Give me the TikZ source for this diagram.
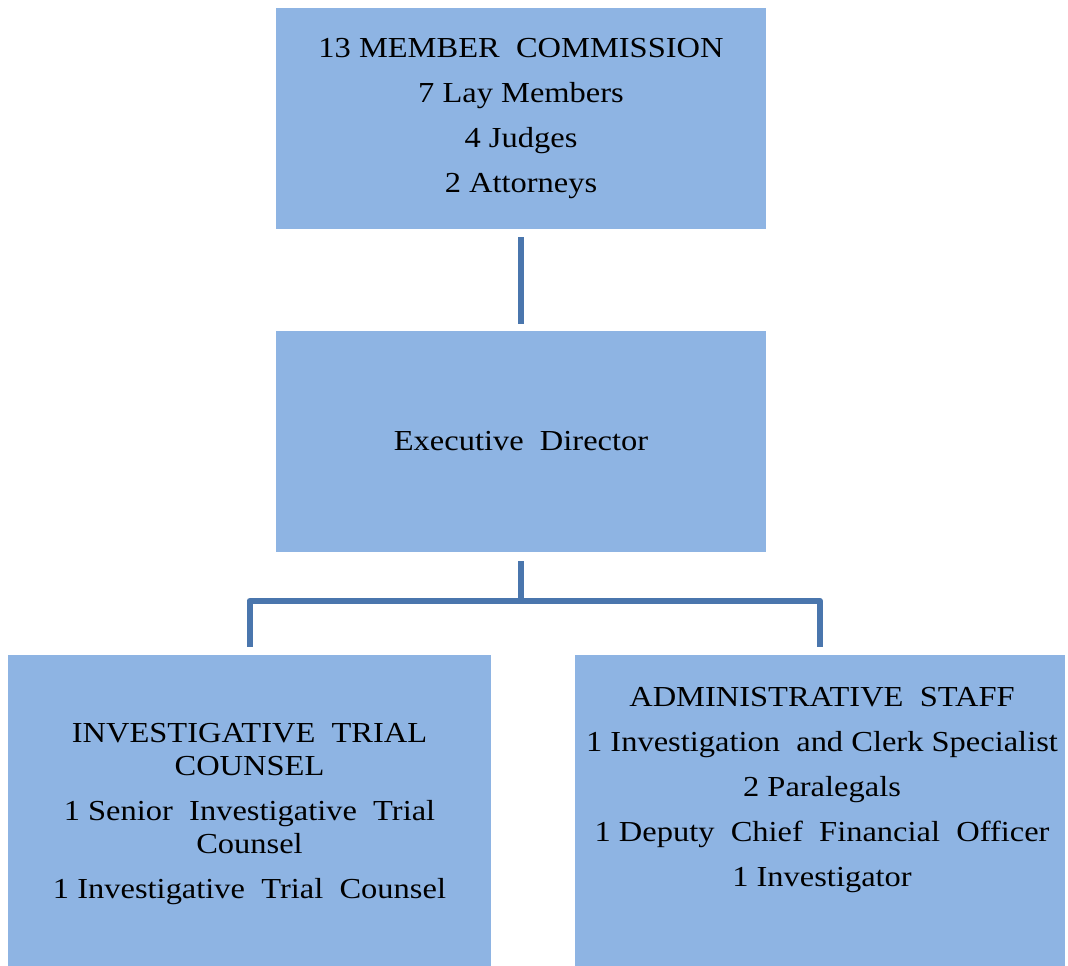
\documentclass[tikz,border=0pt]{standalone}
\usepackage{fontspec}
\setmainfont{Liberation Serif}[FakeStretch=1.12]
\usetikzlibrary{positioning}

\definecolor{boxblue}{RGB}{142,180,227}
\definecolor{lineblue}{RGB}{74,118,173}

\begin{document}
\begin{tikzpicture}[x=1pt,y=-1pt,
	box/.style={fill=boxblue,minimum width=490pt,minimum height=221pt,inner sep=0pt,align=center,font=\fontsize{29}{33}\selectfont},
	txt/.style={inner sep=0pt,align=center,font=\fontsize{29}{33}\selectfont},
	link/.style={lineblue,line width=6pt,line join=round}]
	\useasboundingbox (0,0) rectangle (1068,966);
	\node[box] (comm) at (521,118.5) {13 MEMBER\ \ COMMISSION\\[12pt] 7 Lay Members\\[12pt] 4 Judges\\[12pt] 2 Attorneys};
	\node[box] (exec) at (521,441.5) {Executive\ \ Director};
	\node[box,minimum width=483pt,minimum height=311pt] (inv) at (249.5,810.5) {};
	\node[txt] (invtext) at (249.5,814) {INVESTIGATIVE\ \ TRIAL\\ COUNSEL\\[12pt] 1 Senior\ \ Investigative\ \ Trial\\ Counsel\\[12pt] 1 Investigative\ \ Trial\ \ Counsel};
	\node[box,minimum height=311pt] (adm) at (820,810.5) {};
	\node[txt] (admtext) at (822,790) {ADMINISTRATIVE\ \ STAFF\\[12pt] 1 Investigation\ \ and Clerk Specialist\\[12pt] 2 Paralegals\\[12pt] 1 Deputy\ \ Chief\ \ Financial\ \ Officer\\[12pt] 1 Investigator};

	\draw[link] ([yshift=-8pt]comm.south) -- ([yshift=7pt]exec.north);
	\draw[link] ([yshift=-9pt]exec.south) -- ++(0,41);
	\draw[link] ([yshift=8pt]inv.north) -- ++(0,-46) -| ([yshift=8pt]adm.north);
\end{tikzpicture}
\end{document}
